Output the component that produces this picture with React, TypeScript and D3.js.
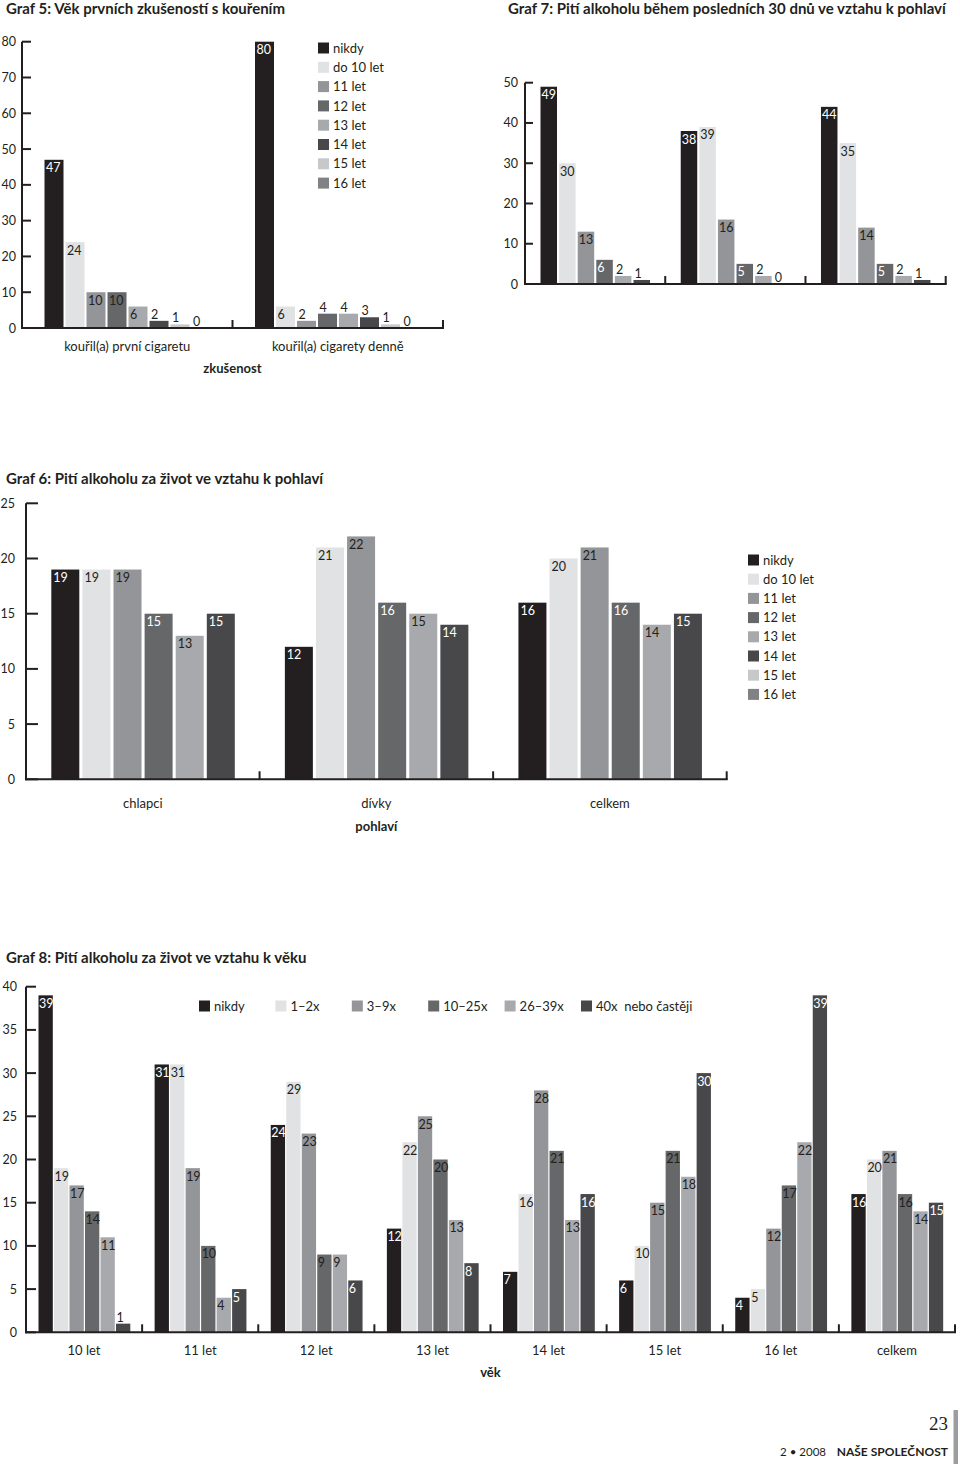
import React from 'react';
import * as d3 from 'd3';

const FONT = "Lato, 'Open Sans', sans-serif";

// ---------- Graf 5 ----------
const g5Title = 'Graf 5: Věk prvních zkušeností s kouřením';
const g5Groups = ['kouřil(a) první cigaretu', 'kouřil(a) cigarety denně'];
const g5Series = ['nikdy', 'do 10 let', '11 let', '12 let', '13 let', '14 let', '15 let', '16 let'];
const g5FirstCig = [47, 24, 10, 10, 6, 2, 1, 0];
const g5Daily = [80, 6, 2, 4, 4, 3, 1, 0];
const g5Ticks = [0, 10, 20, 30, 40, 50, 60, 70, 80];
const g5AxisTitle = 'zkušenost';

// ---------- Graf 7 ----------
const g7Title = 'Graf 7: Pití alkoholu během posledních 30 dnů ve vztahu k pohlaví';
const g7Groups = ['chlapci', 'dívky', 'celkem'];
const g7Boys = [49, 30, 13, 6, 2, 1];
const g7Girls = [38, 39, 16, 5, 2, 0];
const g7Total = [44, 35, 14, 5, 2, 1];
const g7Ticks = [0, 10, 20, 30, 40, 50];

// ---------- Graf 6 ----------
const g6Title = 'Graf  6: Pití alkoholu za život ve vztahu k pohlaví';
const g6Groups = ['chlapci', 'dívky', 'celkem'];
const g6Series = ['nikdy', 'do 10 let', '11 let', '12 let', '13 let', '14 let', '15 let', '16 let'];
const g6Boys = [19, 19, 19, 15, 13, 15];
const g6Girls = [12, 21, 22, 16, 15, 14];
const g6Total = [16, 20, 21, 16, 14, 15];
const g6Ticks = [0, 5, 10, 15, 20, 25];
const g6AxisTitle = 'pohlaví';

// ---------- Graf 8 ----------
const g8Title = 'Graf 8: Pití alkoholu za život ve vztahu k věku';
const g8Groups = ['10 let', '11 let', '12 let', '13 let', '14 let', '15 let', '16 let', 'celkem'];
const g8Series = ['nikdy', '1–2x', '3–9x', '10–25x', '26–39x', '40x  nebo častěji'];
const g8Age10 = [39, 19, 17, 14, 11, 1];
const g8Age11 = [31, 31, 19, 10, 4, 5];
const g8Age12 = [24, 29, 23, 9, 9, 6];
const g8Age13 = [12, 22, 25, 20, 13, 8];
const g8Age14 = [7, 16, 28, 21, 13, 16];
const g8Age15 = [6, 10, 15, 21, 18, 30];
const g8Age16 = [4, 5, 12, 17, 22, 39];
const g8Total = [16, 20, 21, 16, 14, 15];
const g8Ticks = [0, 5, 10, 15, 20, 25, 30, 35, 40];
const g8AxisTitle = 'věk';

// ---------- footer ----------
const pageNumber = '23';
const issue = '2 • 2008';
const journal = 'NAŠE SPOLEČNOST';

// ---------- styles ----------
const INK = '#231f20';
const WHITE = '#ffffff';
const SHADES = ['#231f20', '#e1e2e3', '#939598', '#666769', '#a7a9ac', '#48484a', '#c7c8ca', '#808285'];

type ChartProps = {
  groups: string[];
  values: number[][];
  ticks: number[];
  yMax: number;
  left: number;
  right: number;
  y0: number;
  yTop: number;
  tickLen: number;
  tickLabelX: number;
  barOffset: number;
  barStep: number;
  barWidth: number;
  labelColors: string[];
  labelDx: number;
  showGroupLabels: boolean;
  groupLabelY?: number;
  axisTitle?: string;
  axisTitleY?: number;
};

function GroupedBars(p: ChartProps) {
  const y = d3.scaleLinear().domain([0, p.yMax]).range([p.y0, p.yTop]);
  const x0 = d3.scaleBand<string>().domain(p.groups).range([p.left, p.right]).padding(0);
  const n = p.values[0].length;
  const idx = d3.range(n).map(String);
  const x1 = d3
    .scaleBand<string>()
    .domain(idx)
    .range([p.barOffset, p.barOffset + n * p.barStep - (p.barStep - p.barWidth)])
    .paddingInner(1 - p.barWidth / p.barStep)
    .paddingOuter(0);
  const bw = x1.bandwidth();
  return (
    <g>
      {p.groups.map((g, gi) => (
        <g key={g}>
          {p.values[gi].map((v, si) => {
            const bx = (x0(g) as number) + (x1(String(si)) as number);
            const top = y(v);
            const h = p.y0 - top;
            const inside = h >= 16;
            return (
              <g key={si}>
                {v > 0 && <rect x={bx} y={top} width={bw} height={h} fill={SHADES[si]} />}
                <text
                  x={bx + p.labelDx}
                  y={inside ? top + 12.5 : top - 2}
                  fontSize={12.5}
                  fontFamily={FONT}
                  fill={inside ? p.labelColors[si] : INK}
                >
                  {v}
                </text>
              </g>
            );
          })}
          {p.showGroupLabels && (
            <text
              x={(x0(g) as number) + x0.bandwidth() / 2}
              y={p.groupLabelY}
              textAnchor="middle"
              fontSize={13}
              fontFamily={FONT}
              fill={INK}
            >
              {g}
            </text>
          )}
        </g>
      ))}
      {/* y axis */}
      <line x1={p.left} x2={p.left} y1={p.y0 + 1} y2={y(p.yMax)} stroke={INK} strokeWidth={2} />
      {p.ticks.map((t) => (
        <g key={t}>
          <line x1={p.left} x2={p.left + p.tickLen} y1={y(t)} y2={y(t)} stroke={INK} strokeWidth={2} />
          <text x={p.tickLabelX} y={y(t)} dy="0.36em" textAnchor="end" fontSize={12.5} fontFamily={FONT} fill={INK}>
            {t}
          </text>
        </g>
      ))}
      {/* baseline */}
      <line x1={p.left - 1} x2={p.right + 1} y1={p.y0} y2={p.y0} stroke={INK} strokeWidth={2} />
      {p.groups.map((g, gi) => {
        const sx = gi === 0 ? null : (x0(g) as number);
        return sx === null ? null : (
          <line key={g} x1={sx} x2={sx} y1={p.y0} y2={p.y0 - 8} stroke={INK} strokeWidth={2} />
        );
      })}
      <line x1={p.right} x2={p.right} y1={p.y0} y2={p.y0 - 8} stroke={INK} strokeWidth={2} />
      {p.axisTitle && (
        <text
          x={(p.left + p.right) / 2}
          y={p.axisTitleY}
          textAnchor="middle"
          fontSize={13}
          fontWeight="bold"
          fontFamily={FONT}
          fill={INK}
        >
          {p.axisTitle}
        </text>
      )}
    </g>
  );
}

function VLegend({ items, x, y, step }: { items: string[]; x: number; y: number; step: number }) {
  return (
    <g>
      {items.map((s, i) => (
        <g key={s} transform={`translate(${x},${y + i * step})`}>
          <rect x={0} y={-5.5} width={11} height={11} fill={SHADES[i]} />
          <text x={15} y={0} dy="0.36em" fontSize={13} fontFamily={FONT} fill={INK}>
            {s}
          </text>
        </g>
      ))}
    </g>
  );
}

function Title({ text, x, y }: { text: string; x: number; y: number }) {
  return (
    <text x={x} y={y} fontSize={15} fontWeight="bold" fontFamily={FONT} fill={INK}>
      {text}
    </text>
  );
}

export default function App() {
  const g8Legend = d3.scaleLinear().domain([0, g8Series.length - 1]).range([199, 581]);
  return (
    <svg
      width={960}
      height={1482}
      viewBox="0 0 960 1482"
      style={{ position: 'absolute', left: 0, top: 0, background: '#fff' }}
    >
      <rect width={960} height={1482} fill="#fff" />

      {/* Graf 5 */}
      <Title text={g5Title} x={6} y={14} />
      <GroupedBars
        groups={g5Groups}
        values={[g5FirstCig, g5Daily]}
        ticks={g5Ticks}
        yMax={80}
        left={22}
        right={443}
        y0={328}
        yTop={41.7}
        tickLen={9}
        tickLabelX={16}
        barOffset={22.5}
        barStep={21}
        barWidth={19}
        labelColors={[WHITE, INK, INK, INK, INK, INK, INK, INK]}
        labelDx={1.5}
        showGroupLabels={true}
        groupLabelY={351}
        axisTitle={g5AxisTitle}
        axisTitleY={373}
      />
      <VLegend items={g5Series} x={318} y={48} step={19.3} />

      {/* Graf 7 */}
      <Title text={g7Title} x={508} y={14} />
      <GroupedBars
        groups={g7Groups}
        values={[g7Boys, g7Girls, g7Total]}
        ticks={g7Ticks}
        yMax={50}
        left={525}
        right={945.7}
        y0={284}
        yTop={82.7}
        tickLen={8}
        tickLabelX={518}
        barOffset={15.5}
        barStep={18.6}
        barWidth={16.5}
        labelColors={[WHITE, INK, INK, WHITE, INK, INK]}
        labelDx={1}
        showGroupLabels={false}
      />

      {/* Graf 6 */}
      <Title text={g6Title} x={6} y={484} />
      <GroupedBars
        groups={g6Groups}
        values={[g6Boys, g6Girls, g6Total]}
        ticks={g6Ticks}
        yMax={25}
        left={26}
        right={726.7}
        y0={779.3}
        yTop={503.3}
        tickLen={12}
        tickLabelX={15}
        barOffset={25.3}
        barStep={31.1}
        barWidth={28}
        labelColors={[WHITE, INK, INK, WHITE, INK, WHITE]}
        labelDx={2}
        showGroupLabels={true}
        groupLabelY={808}
        axisTitle={g6AxisTitle}
        axisTitleY={831}
      />
      <VLegend items={g6Series} x={748} y={560} step={19.2} />

      {/* Graf 8 */}
      <Title text={g8Title} x={6} y={963} />
      <GroupedBars
        groups={g8Groups}
        values={[g8Age10, g8Age11, g8Age12, g8Age13, g8Age14, g8Age15, g8Age16, g8Total]}
        ticks={g8Ticks}
        yMax={40}
        left={26}
        right={955}
        y0={1332.3}
        yTop={986.7}
        tickLen={10}
        tickLabelX={17}
        barOffset={12.5}
        barStep={15.5}
        barWidth={14.3}
        labelColors={[WHITE, INK, INK, INK, INK, WHITE]}
        labelDx={0.5}
        showGroupLabels={true}
        groupLabelY={1354.5}
        axisTitle={g8AxisTitle}
        axisTitleY={1377}
      />
      {g8Series.map((s, i) => (
        <g key={s} transform={`translate(${g8Legend(i)},1006)`}>
          <rect x={0} y={-5.5} width={11} height={11} fill={SHADES[i]} />
          <text x={15} y={0} dy="0.36em" fontSize={13} fontFamily={FONT} fill={INK} style={{ whiteSpace: 'pre' }}>
            {s}
          </text>
        </g>
      ))}

      {/* page footer */}
      <text x={948} y={1430} textAnchor="end" fontSize={19} fontFamily="'Liberation Serif', 'DejaVu Serif', serif" fill={INK}>
        {pageNumber}
      </text>
      <text x={826} y={1456} textAnchor="end" fontSize={11.5} fontFamily={FONT} fill={INK}>
        {issue}
      </text>
      <text x={948} y={1456} textAnchor="end" fontSize={12} fontWeight="bold" fontFamily={FONT} fill={INK}>
        {journal}
      </text>
      <rect x={953.5} y={1410} width={4.5} height={54} fill="#9d9d9f" />
    </svg>
  );
}
